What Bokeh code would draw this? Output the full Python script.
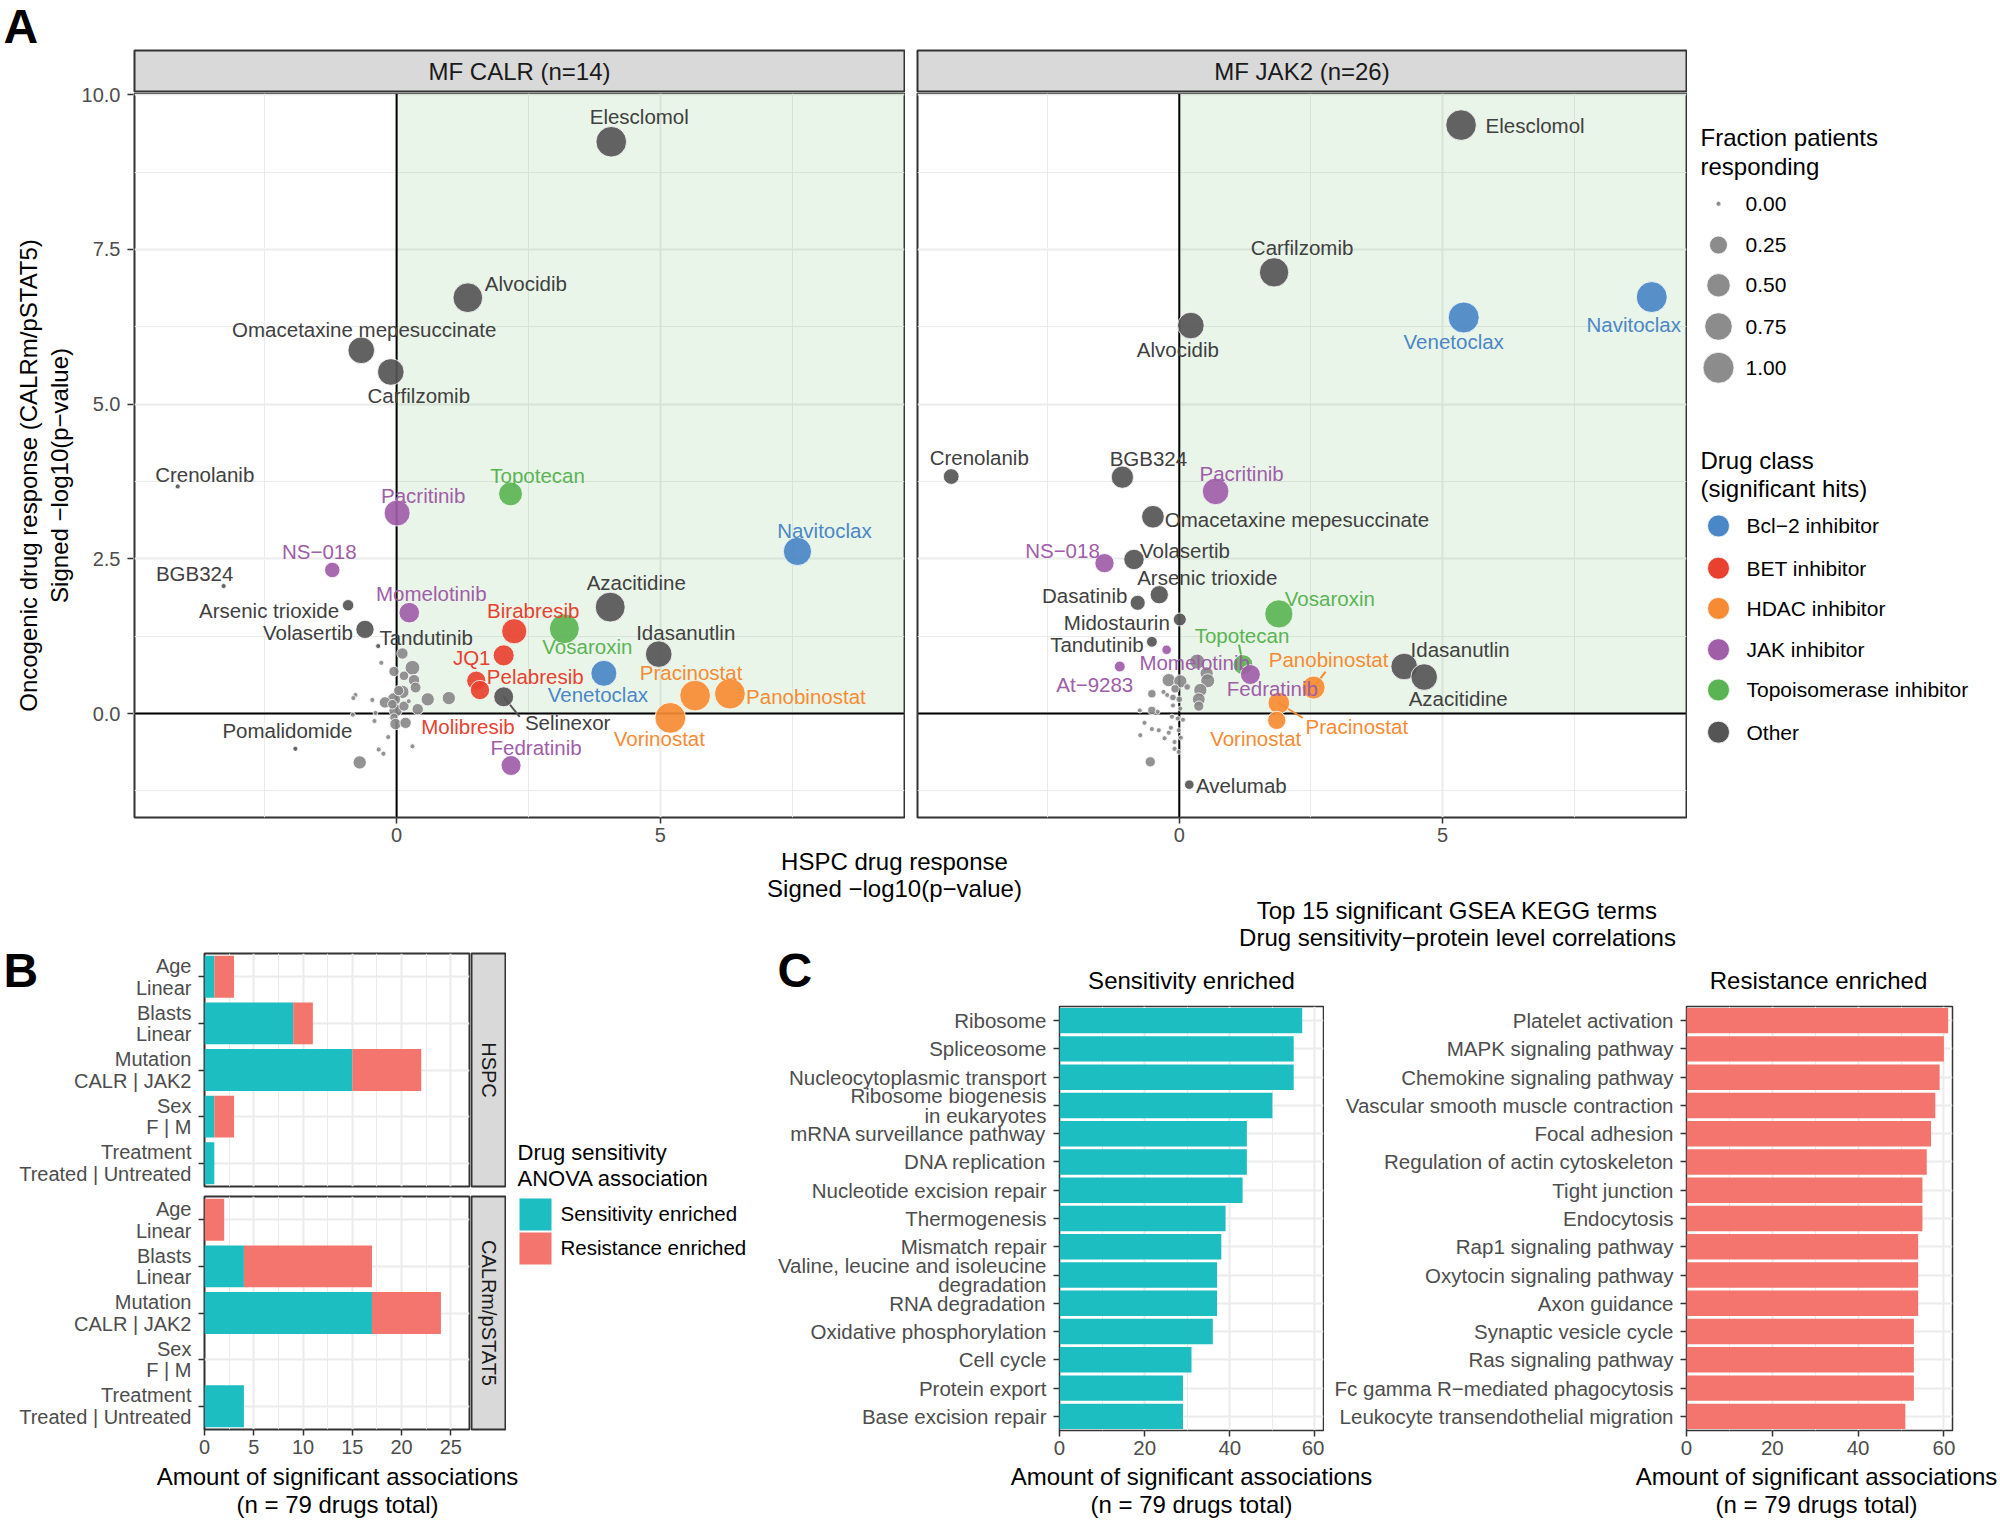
import numpy as np
from bokeh.plotting import figure
from bokeh.models import Range1d, FactorRange, FixedTicker, NumeralTickFormatter, Spacer
from bokeh.layouts import row, column
from bokeh.embed import file_html
from bokeh.resources import INLINE
from bokeh.core.properties import value

FONT = "Liberation Sans"

# ---------------- Panel A data ----------------
calr_drug = ["Elesclomol", "Alvocidib", "Omacetaxine mepesuccinate", "Carfilzomib", "Crenolanib",
             "Pacritinib", "Topotecan", "Navitoclax", "NS\u2212018", "BGB324", "Azacitidine",
             "Momelotinib", "Arsenic trioxide", "Birabresib", "Vosaroxin", "Volasertib", "Tandutinib",
             "Idasanutlin", "JQ1", "Pelabresib", "Molibresib", "Venetoclax", "Pracinostat",
             "Panobinostat", "Vorinostat", "Selinexor", "Fedratinib", "Pomalidomide"]
calr_hspc = [4.07, 1.35, -0.67, -0.11, -4.15, 0.01, 2.16, 7.60, -1.22, -3.28, 4.05, 0.24, -0.92, 2.23,
             3.18, -0.60, -0.35, 4.97, 2.03, 1.51, 1.58, 3.93, 5.66, 6.32, 5.19, 2.03, 2.17, -1.92]
calr_onc = [9.24, 6.72, 5.87, 5.52, 3.67, 3.24, 3.55, 2.62, 2.32, 2.06, 1.72, 1.63, 1.75, 1.33,
            1.37, 1.36, 1.09, 0.96, 0.94, 0.53, 0.38, 0.65, 0.29, 0.32, -0.07, 0.27, -0.84, -0.57]
calr_frac = [0.97, 0.90, 0.69, 0.69, 0.0, 0.65, 0.53, 0.80, 0.16, 0.0, 0.92, 0.36, 0.06, 0.60,
             0.92, 0.26, 0.0, 0.69, 0.38, 0.30, 0.30, 0.65, 0.98, 0.98, 0.98, 0.33, 0.33, 0.0]
calr_class = ["Other", "Other", "Other", "Other", "Other", "JAK", "Topo", "Bcl", "JAK", "Other", "Other",
              "JAK", "Other", "BET", "Topo", "Other", "Other", "Other", "BET", "BET", "BET", "Bcl",
              "HDAC", "HDAC", "HDAC", "Other", "JAK", "Other"]
calr_bg_x = [0.11, -0.29, 0.30, -0.05, 0.33, 0.14, 0.36, 0.11, -0.05, -0.22, 0.59, 0.99, 0.40, -0.02,
             0.14, -0.78, -0.82, -0.46, 0.23, -0.83, -0.40, -0.42, -0.05, -0.02, 0.17, -0.16, 0.30,
             -0.34, -0.25, -0.70, 0.04, -0.08]
calr_bg_y = [0.97, 0.82, 0.74, 0.68, 0.54, 0.61, 0.42, 0.35, 0.23, 0.18, 0.23, 0.25, 0.07, 0.05,
             0.12, 0.30, 0.25, 0.22, 0.20, -0.02, 0.01, -0.12, -0.06, -0.17, -0.15, -0.38, -0.53,
             -0.58, -0.65, -0.79, 0.37, 0.15]
calr_bg_f = [0.06, 0.0, 0.14, 0.04, 0.06, 0.03, 0.05, 0.10, 0.10, 0.06, 0.10, 0.10, 0.06, 0.10,
             0.04, 0.0, 0.0, 0.0, 0.0, 0.0, 0.0, 0.0, 0.016, 0.06, 0.06, 0.0, 0.0, 0.0, 0.0, 0.10,
             0.04, 0.03]

jak_drug = ["Elesclomol", "Carfilzomib", "Navitoclax", "Venetoclax", "Alvocidib", "Crenolanib", "BGB324",
            "Pacritinib", "Omacetaxine mepesuccinate", "NS\u2212018", "Volasertib", "Arsenic trioxide",
            "Dasatinib", "Midostaurin", "Vosaroxin", "Tandutinib", "Momelotinib", "At\u22129283",
            "Topotecan", "Fedratinib", "Panobinostat", "Pracinostat", "Vorinostat", "Idasanutlin",
            "Azacitidine", "Avelumab"]
jak_hspc = [5.35, 1.80, 8.97, 5.40, 0.22, -4.33, -1.08, 0.69, -0.50, -1.42, -0.86, -0.38, -0.79, 0.01,
            1.89, -0.52, -0.24, -1.13, 1.21, 1.35, 2.55, 1.89, 1.85, 4.27, 4.65, 0.19]
jak_onc = [9.51, 7.13, 6.73, 6.40, 6.27, 3.83, 3.82, 3.59, 3.18, 2.43, 2.49, 1.92, 1.79, 1.52, 1.61,
           1.16, 1.03, 0.76, 0.79, 0.63, 0.42, 0.17, -0.11, 0.76, 0.59, -1.15]
jak_frac = [0.97, 0.88, 1.0, 1.0, 0.69, 0.17, 0.44, 0.69, 0.46, 0.30, 0.35, 0.26, 0.15, 0.095, 0.80,
            0.05, 0.03, 0.05, 0.33, 0.33, 0.48, 0.41, 0.26, 0.69, 0.69, 0.03]
jak_class = ["Other", "Other", "Bcl", "Bcl", "Other", "Other", "Other", "JAK", "Other", "JAK", "Other",
             "Other", "Other", "Other", "Topo", "Other", "JAK", "JAK", "Topo", "JAK", "HDAC", "HDAC",
             "HDAC", "Other", "Other", "Other"]
jak_bg_x = [0.34, 0.52, 0.54, 0.40, 0.37, 0.37, -0.20, 0.02, 0.15, -0.08, -0.52, -0.23, -0.12, 0.00,
            -0.30, -0.52, -0.75, -0.41, -0.12, 0.02, -0.03, -0.14, 0.07, -0.66, -0.52, -0.39, -0.16,
            -0.01, -0.74, -0.20, -0.28, 0.03, -0.09, -0.09, -0.01, -0.55]
jak_bg_y = [0.84, 0.65, 0.53, 0.38, 0.23, 0.12, 0.54, 0.52, 0.43, 0.40, 0.32, 0.30, 0.26, 0.23, 0.35,
            0.05, 0.05, 0.03, 0.13, 0.08, -0.08, -0.05, -0.10, -0.15, -0.25, -0.27, -0.23, -0.27,
            -0.35, -0.31, -0.40, -0.39, -0.46, -0.57, -0.62, -0.78]
jak_bg_f = [0.15, 0.10, 0.12, 0.10, 0.09, 0.04, 0.10, 0.10, 0.004, 0.016, 0.016, 0.0, 0.004, 0.004,
            0.0, 0.016, 0.0, 0.0, 0.0, 0.0, 0.0, 0.0, 0.0, 0.0, 0.0, 0.0, 0.0, 0.0, 0.0, 0.0, 0.0, 0.0,
            0.0, 0.0, 0.0, 0.04]

a_xticks = [0, 5]
a_yticks = [0, 2.5, 5, 7.5, 10]
size_legend_vals = [0.0, 0.25, 0.50, 0.75, 1.00]
size_legend_labels = ["0.00", "0.25", "0.50", "0.75", "1.00"]
class_keys = ["Bcl", "BET", "HDAC", "JAK", "Topo", "Other"]
class_labels = ["Bcl\u22122 inhibitor", "BET inhibitor", "HDAC inhibitor", "JAK inhibitor",
                "Topoisomerase inhibitor", "Other"]

# ---------------- Panel B data ----------------
b_cats = ["Age\nLinear", "Blasts\nLinear", "Mutation\nCALR | JAK2", "Sex\nF | M",
          "Treatment\nTreated | Untreated"]
hspc_sens = [1, 9, 15, 1, 1]
hspc_res = [2, 2, 7, 2, 0]
calr_sens = [0, 4, 17, 0, 4]
calr_res = [2, 13, 7, 0, 0]
b_ticks = [0, 5, 10, 15, 20, 25]

# ---------------- Panel C data ----------------
sens_terms = ["Ribosome", "Spliceosome", "Nucleocytoplasmic transport", "Ribosome biogenesis\nin eukaryotes",
              "mRNA surveillance pathway", "DNA replication", "Nucleotide excision repair", "Thermogenesis",
              "Mismatch repair", "Valine, leucine and isoleucine\ndegradation", "RNA degradation",
              "Oxidative phosphorylation", "Cell cycle", "Protein export", "Base excision repair"]
sens_counts = [57, 55, 55, 50, 44, 44, 43, 39, 38, 37, 37, 36, 31, 29, 29]
res_terms = ["Platelet activation", "MAPK signaling pathway", "Chemokine signaling pathway",
             "Vascular smooth muscle contraction", "Focal adhesion", "Regulation of actin cytoskeleton",
             "Tight junction", "Endocytosis", "Rap1 signaling pathway", "Oxytocin signaling pathway",
             "Axon guidance", "Synaptic vesicle cycle", "Ras signaling pathway",
             "Fc gamma R\u2212mediated phagocytosis", "Leukocyte transendothelial migration"]
res_counts = [61, 60, 59, 58, 57, 56, 55, 55, 54, 54, 54, 53, 53, 53, 51]
c_ticks = [0, 20, 40, 60]

# ---------------- styling / layout ----------------
CLS_COL = {"Bcl": "#4A87C6", "BET": "#E8412F", "HDAC": "#F68B33", "JAK": "#A05DA8",
           "Topo": "#5BB454", "Other": "#555555"}
TXT_COL = dict(CLS_COL, Other="#404040")
BG_GRAY = "#878787"
TEAL = "#1CBEC2"
SALMON = "#F4756D"

# label offsets (screen px) relative to each point
calr_off = {"Elesclomol": (28, -25), "Alvocidib": (58, -14), "Omacetaxine mepesuccinate": (3, -21),
            "Carfilzomib": (28, 24), "Crenolanib": (27, -12), "Pacritinib": (26, -18),
            "Topotecan": (27, -18), "Navitoclax": (27, -21), "NS\u2212018": (-13, -18),
            "BGB324": (-29, -13), "Azacitidine": (26, -25), "Momelotinib": (22, -19),
            "Arsenic trioxide": (-79, 5), "Birabresib": (19, -21), "Vosaroxin": (23, 18),
            "Volasertib": (-57, 3), "Tandutinib": (48, -9), "Idasanutlin": (27, -22), "JQ1": (-32, 2),
            "Pelabresib": (59, -4), "Molibresib": (-12, 36), "Venetoclax": (-6, 21),
            "Pracinostat": (-4, -23), "Panobinostat": (76, 3), "Vorinostat": (-11, 21),
            "Selinexor": (64, 26), "Fedratinib": (25, -18), "Pomalidomide": (-8, -18)}
calr_seg = {"Selinexor": (16, 20)}
jak_off = {"Elesclomol": (74, 0), "Carfilzomib": (28, -25), "Navitoclax": (-18, 27), "Venetoclax": (-10, 24),
           "Alvocidib": (-13, 24), "Crenolanib": (28, -19), "BGB324": (26, -19), "Pacritinib": (26, -18),
           "Omacetaxine mepesuccinate": (144, 3), "NS\u2212018": (-42, -13), "Volasertib": (51, -9),
           "Arsenic trioxide": (48, -17), "Dasatinib": (-53, -7), "Midostaurin": (-63, 3),
           "Vosaroxin": (51, -15), "Tandutinib": (-55, 3), "Momelotinib": (28, 13), "At\u22129283": (-25, 18),
           "Topotecan": (-1, -29), "Fedratinib": (22, 14), "Panobinostat": (15, -28),
           "Pracinostat": (78, 23), "Vorinostat": (-21, 18), "Idasanutlin": (56, -17),
           "Azacitidine": (34, 21), "Avelumab": (52, 1)}
jak_seg = {"Topotecan": (-4, -20), "Panobinostat": (12, -16), "Pracinostat": (24, 15)}

XMIN, XMAX = -4.97, 9.63
YMIN, YMAX = -1.68, 10.02
BXMAX = 26.9
TOTAL_W = 1998


def dot_size(f):
    return list(5 + 26 * np.sqrt(np.asarray(f, dtype=float)))


class Box:
    """blank figure; texts are placed by page pixel coordinates (top-left origin)"""
    def __init__(self, w, h, x0, y0):
        self.p = figure(width=w, height=h, x_range=Range1d(0, w), y_range=Range1d(0, h),
                        x_axis_type=None, y_axis_type=None, min_border=0,
                        output_backend="svg", toolbar_location=None)
        self.p.outline_line_color = None
        self.x0, self.y0, self.h = x0, y0, h

    def X(self, x):
        return x - self.x0

    def Y(self, y):
        return self.h - (y - self.y0)

    def text(self, x, y, s, size, color="black", align="left", angle=0.0, bold=False):
        self.p.text(x=[self.X(x)], y=[self.Y(y)], text=[s], angle=angle,
                    text_font=value(FONT), text_font_size=size, text_color=color,
                    text_align=align, text_baseline="middle",
                    text_font_style="bold" if bold else "normal")


def floating(b, x0, y0):
    b.p.border_fill_color = None
    b.p.background_fill_color = None
    b.p.stylesheets = [":host { position: absolute !important; left: %dpx !important; "
                       "top: %dpx !important; z-index: 10 !important; }" % (x0, y0)]
    return b.p


def style_axes(p, size="20px"):
    for ax in p.axis:
        ax.axis_line_color = None
        ax.major_tick_line_color = "#333333"
        ax.major_tick_line_width = 1.5
        ax.major_tick_in = 0
        ax.major_tick_out = 6
        ax.minor_tick_line_color = None
        ax.major_label_text_font = FONT
        ax.major_label_text_font_size = size
        ax.major_label_text_color = "#4D4D4D"


def style_grid(g):
    g.grid_line_color = "#EBEBEB"
    g.grid_line_width = 2
    g.minor_grid_line_color = "#EBEBEB"
    g.minor_grid_line_width = 1


def strip(w, h, s, size, angle=0.0, mbl=1, mbr=1, mbt=1, mbb=1):
    p = figure(width=w, height=h, x_range=Range1d(0, 1), y_range=Range1d(0, 1),
               x_axis_type=None, y_axis_type=None, min_border_left=mbl, min_border_right=mbr,
               min_border_top=mbt, min_border_bottom=mbb, output_backend="svg", toolbar_location=None)
    p.background_fill_color = "#D9D9D9"
    p.outline_line_color = "#333333"
    p.outline_line_width = 2
    p.text(x=[0.5], y=[0.5], text=[s], angle=angle, text_align="center", text_baseline="middle",
           text_font=value(FONT), text_font_size=size, text_color="#1A1A1A")
    return p


A_YT = FixedTicker(ticks=a_yticks, minor_ticks=[-1.25, 1.25, 3.75, 6.25, 8.75])
A_XT = FixedTicker(ticks=a_xticks, minor_ticks=[-2.5, 2.5, 7.5])


def y_axis_A():
    """shared y axis of panel A, in its own narrow figure so the top tick label is not clipped"""
    p = figure(width=55, height=798, x_range=Range1d(0, 1), y_range=Range1d(YMIN, YMAX),
               x_axis_location=None, min_border_left=54, min_border_right=0, min_border_top=44,
               min_border_bottom=30, output_backend="svg", toolbar_location=None)
    p.outline_line_color = None
    p.grid.visible = False
    p.yaxis.ticker = A_YT
    p.yaxis.formatter = NumeralTickFormatter(format="0.0")
    style_axes(p)
    p.yaxis.major_label_standoff = 7
    return p


def facet_A(names, hx, oy, fr, cls, off, seg, bgx, bgy, bgf, width):
    p = figure(width=width, height=755, x_range=Range1d(XMIN, XMAX), y_range=Range1d(YMIN, YMAX),
               y_axis_location=None, min_border_left=1, min_border_right=1, min_border_top=1,
               min_border_bottom=30, output_backend="svg", toolbar_location=None)
    p.outline_line_color = "#333333"
    p.outline_line_width = 2
    p.xaxis.ticker = A_XT
    p.xgrid.ticker = A_XT
    p.ygrid.ticker = A_YT
    p.xaxis.major_label_standoff = 4
    style_axes(p)
    style_grid(p.xgrid)
    style_grid(p.ygrid)
    pxx = 770 / (XMAX - XMIN)
    pxy = 724 / (YMAX - YMIN)
    p.quad(left=[0], right=[XMAX], bottom=[0], top=[YMAX], fill_color="#5DB555", fill_alpha=0.13,
           line_color=None)
    p.segment(x0=[XMIN], x1=[XMAX], y0=[0], y1=[0], line_color="black", line_width=2)
    p.segment(x0=[0], x1=[0], y0=[YMIN], y1=[YMAX], line_color="black", line_width=2)
    for n, (dx, dy) in seg.items():
        i = names.index(n)
        p.segment(x0=[hx[i]], y0=[oy[i]], x1=[hx[i] + dx / pxx], y1=[oy[i] - dy / pxy],
                  line_color=CLS_COL[cls[i]], line_width=2)
    p.scatter(x=bgx, y=bgy, size=dot_size(bgf), fill_color=BG_GRAY, line_color="white",
              line_width=0.8, fill_alpha=0.9)
    p.scatter(x=hx, y=oy, size=dot_size(fr), fill_color=[CLS_COL[c] for c in cls], line_color="white",
              line_width=0.8, fill_alpha=0.92)
    p.text(x=hx, y=oy, text=names, x_offset=[off[n][0] for n in names], y_offset=[off[n][1] for n in names],
           text_color=[TXT_COL[c] for c in cls], text_align="center", text_baseline="middle",
           text_font=value(FONT), text_font_size="20.5px")
    return p


def bar_B(height, sens, res, mbt, mbb, show_x):
    kw = dict(width=470, height=height, y_range=FactorRange(factors=list(reversed(b_cats))),
              x_range=Range1d(0, BXMAX), min_border_left=204, min_border_right=1, min_border_top=mbt,
              min_border_bottom=mbb, output_backend="svg", toolbar_location=None)
    if not show_x:
        kw["x_axis_location"] = None
    p = figure(**kw)
    p.outline_line_color = "#333333"
    p.outline_line_width = 2
    t = FixedTicker(ticks=b_ticks, minor_ticks=[2.5, 7.5, 12.5, 17.5, 22.5])
    p.xgrid.ticker = t
    if show_x:
        p.xaxis.ticker = t
        p.xaxis.major_label_standoff = 4
    style_axes(p)
    p.yaxis.major_label_standoff = 7
    p.yaxis.major_label_text_line_height = 0.98
    style_grid(p.xgrid)
    style_grid(p.ygrid)
    tot = list(np.asarray(sens) + np.asarray(res))
    p.hbar(y=b_cats, left=0, right=sens, height=0.9, fill_color=TEAL, line_color=None)
    p.hbar(y=b_cats, left=sens, right=tot, height=0.9, fill_color=SALMON, line_color=None)
    return p


def bar_C(width, mbl, mbr, terms, counts, color):
    p = figure(width=width, height=456, y_range=FactorRange(factors=list(reversed(terms))),
               x_range=Range1d(0, 62), min_border_left=mbl, min_border_right=mbr, min_border_top=1,
               min_border_bottom=31, output_backend="svg", toolbar_location=None)
    p.outline_line_color = "#333333"
    p.outline_line_width = 1.5
    t = FixedTicker(ticks=c_ticks, minor_ticks=[10, 30, 50])
    p.xaxis.ticker = t
    p.xgrid.ticker = t
    style_axes(p, "20.5px")
    p.xaxis.major_label_standoff = 4
    p.yaxis.major_label_standoff = 7
    p.yaxis.major_label_text_line_height = 0.85
    style_grid(p.xgrid)
    style_grid(p.ygrid)
    p.hbar(y=terms, left=0, right=counts, height=0.9, fill_color=color, line_color=None)
    return p


# ---- floating panel letters (transparent full-width overlays) ----
boxA = Box(TOTAL_W, 64, 0, 0)
boxA.text(3, 26, "A", "48px", bold=True)
letterA = floating(boxA, 0, 0)
boxBC = Box(TOTAL_W, 70, 0, 935)
boxBC.text(3, 969.5, "B", "48px", bold=True)
boxBC.text(777, 970, "C", "48px", bold=True)
letterBC = floating(boxBC, 0, 935)

# ---- band 0 (y 0..49) ----
band0 = Spacer(width=TOTAL_W, height=49)

# ---- panel A (y 49..847) ----
ytitle = Box(78, 798, 0, 49)
ytitle.text(28, 470, "Oncogenic drug response (CALRm/pSTAT5)", "24px", align="center", angle=np.pi / 2)
ytitle.text(59, 470, "Signed \u2212log10(p\u2212value)", "24px", align="center", angle=np.pi / 2)
yaxA = y_axis_A()

stripL = strip(772, 43, "MF CALR (n=14)", "24px")
stripR = strip(771, 43, "MF JAK2 (n=26)", "24px")
legA_w = TOTAL_W - 78 - 55 - 772 - 11 - 771
strip_row = row(stripL, Spacer(width=11, height=43), stripR, Spacer(width=legA_w, height=43))

figAL = facet_A(calr_drug, calr_hspc, calr_onc, calr_frac, calr_class, calr_off, calr_seg,
                calr_bg_x, calr_bg_y, calr_bg_f, 772)
figAR = facet_A(jak_drug, jak_hspc, jak_onc, jak_frac, jak_class, jak_off, jak_seg,
                jak_bg_x, jak_bg_y, jak_bg_f, 771)

legA = Box(legA_w, 755, 1687, 92)
legA.text(1700, 138, "Fraction patients", "24px")
legA.text(1700, 168, "responding", "24px")
size_y = [207, 250, 292, 335, 378]
legA.p.scatter(x=[legA.X(1718)] * 5, y=[legA.Y(v) for v in size_y], size=dot_size(size_legend_vals),
               fill_color="#8C8C8C", line_color="white", line_width=0.8)
for yy, lab in zip(size_y, size_legend_labels):
    legA.text(1745, yy, lab, "21px")
legA.text(1700, 475, "Drug class", "24px")
legA.text(1700, 504, "(significant hits)", "24px")
cls_y = [543, 587, 629, 672, 714, 758]
legA.p.scatter(x=[legA.X(1718)] * 6, y=[legA.Y(v) for v in cls_y], size=22,
               fill_color=[CLS_COL[k] for k in class_keys], line_color="white", line_width=0.8)
for yy, lab in zip(cls_y, class_labels):
    legA.text(1746, yy, lab, "21px")

fig_row = row(figAL, Spacer(width=11, height=755), figAR, legA.p)
bandA = row(ytitle.p, yaxA, column(strip_row, fig_row))

# ---- band 3 (y 847..952): A x-title + C main title ----
band3 = Box(TOTAL_W, 105, 0, 847)
band3.text(894, 861, "HSPC drug response", "24px", align="center")
band3.text(894, 888, "Signed \u2212log10(p\u2212value)", "24px", align="center")
band3.text(1457, 910, "Top 15 significant GSEA KEGG terms", "24px", align="center")
band3.text(1457, 937, "Drug sensitivity\u2212protein level correlations", "24px", align="center")

# ---- band 4 (y 952..1461): B and C ----
figBt = bar_B(243, hspc_sens, hspc_res, 1, 9, False)
figBb = bar_B(266, calr_sens, calr_res, 1, 32, True)
stripBt = strip(36, 243, "HSPC", "20px", angle=-np.pi / 2, mbt=1, mbb=9)
stripBb = strip(36, 266, "CALRm/pSTAT5", "20px", angle=-np.pi / 2, mbt=1, mbb=32)
colB = column(row(figBt, stripBt), row(figBb, stripBb))

legB = Box(264, 509, 506, 952)
legB.text(517, 1152, "Drug sensitivity", "22px")
legB.text(517, 1178, "ANOVA association", "22px")
legB.p.quad(left=[legB.X(519)] * 2, right=[legB.X(551)] * 2, top=[legB.Y(1198), legB.Y(1232)],
            bottom=[legB.Y(1230), legB.Y(1264)], fill_color=[TEAL, SALMON], line_color=None)
legB.text(560, 1213, "Sensitivity enriched", "20.5px")
legB.text(560, 1247, "Resistance enriched", "20.5px")

cw = TOTAL_W - 770
ctop = Box(cw, 53, 770, 952)
ctop.text(1191, 980, "Sensitivity enriched", "24px", align="center")
ctop.text(1818, 980, "Resistance enriched", "24px", align="center")
figCL = bar_C(554, 289, 1, sens_terms, sens_counts, TEAL)
figCR = bar_C(cw - 554, 362, cw - 554 - 362 - 266, res_terms, res_counts, SALMON)
colC = column(ctop.p, row(figCL, figCR))

band4 = row(colB, legB.p, colC)

# ---- band 5 (y 1461..1519): bottom axis titles ----
band5 = Box(TOTAL_W, 58, 0, 1461)
for cx in (337, 1191, 1816):
    band5.text(cx, 1476, "Amount of significant associations", "24px", align="center")
    band5.text(cx, 1504, "(n = 79 drugs total)", "24px", align="center")

layout = column(band0, bandA, band3.p, band4, band5.p, letterA, letterBC)

open("out.html", "w").write(file_html(layout, INLINE, title="plot"))
